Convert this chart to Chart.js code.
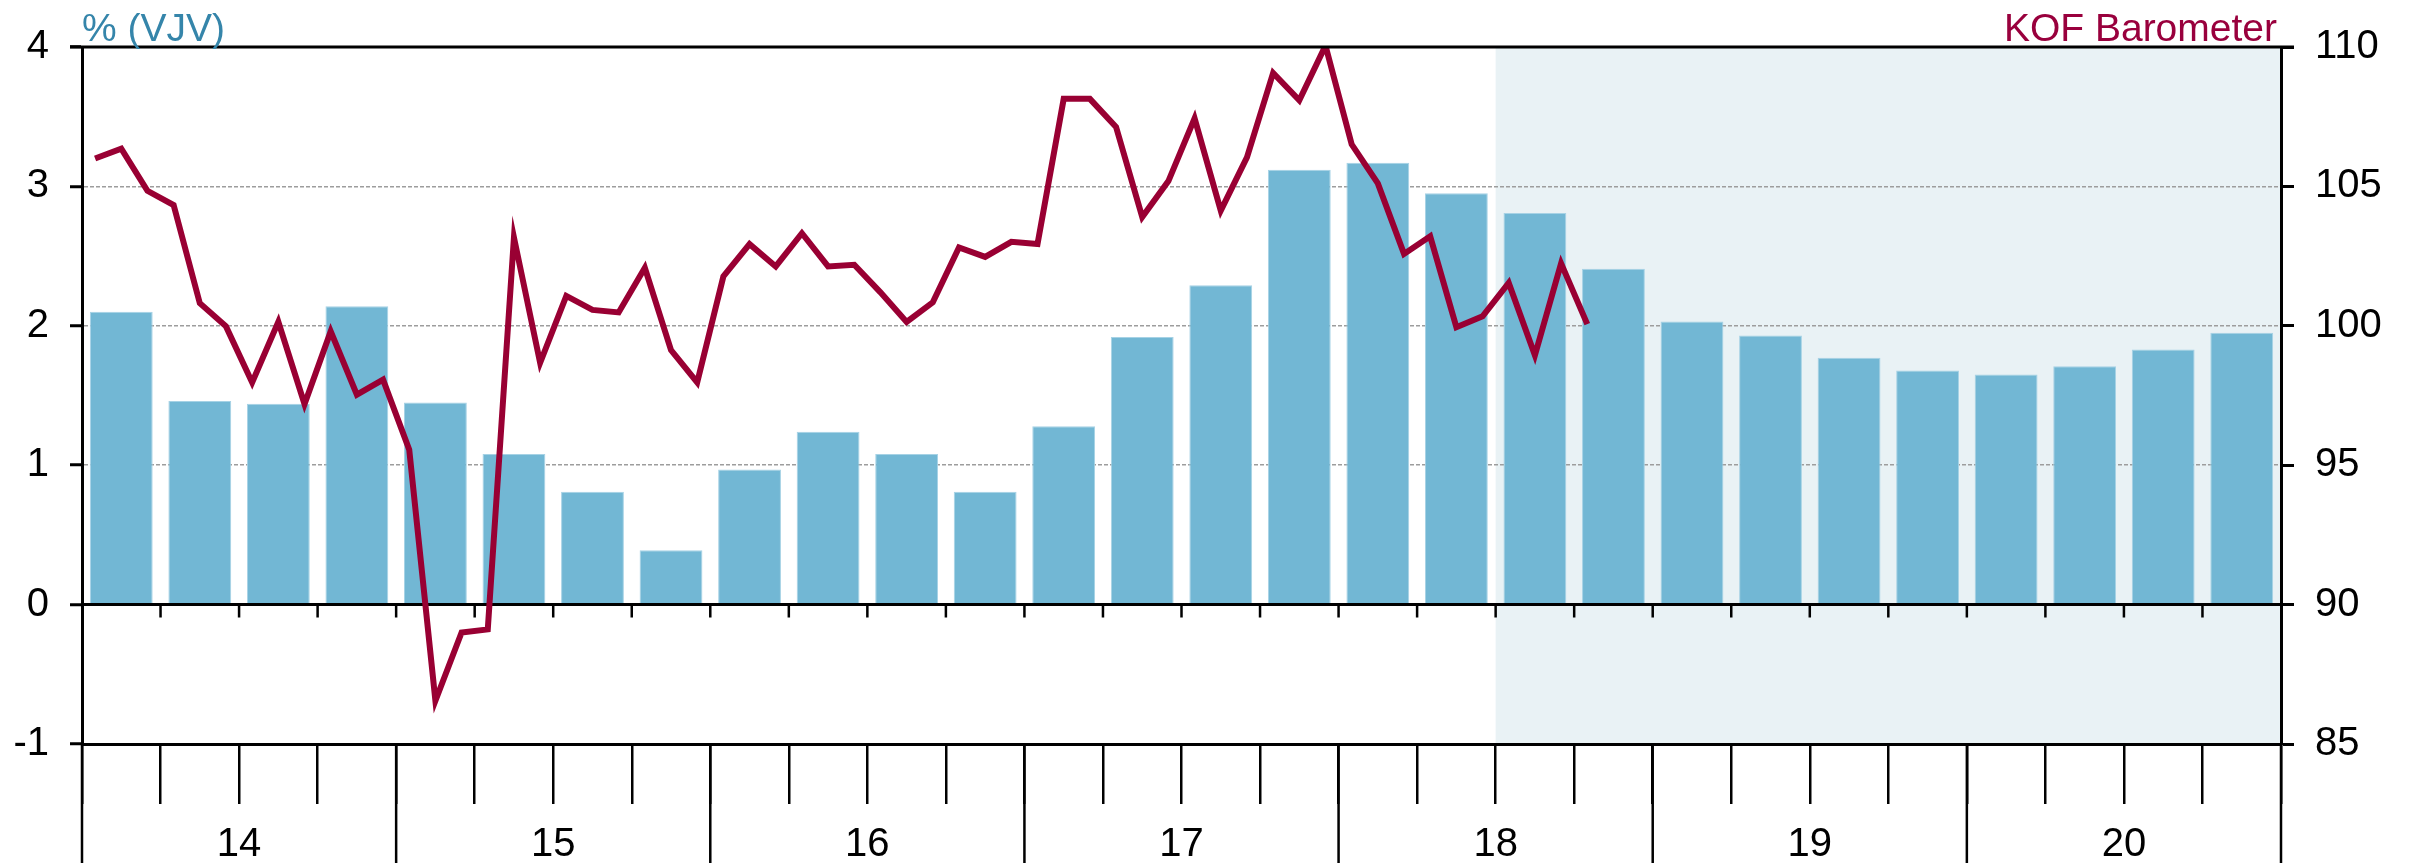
<!DOCTYPE html>
<html>
<head>
<meta charset="utf-8">
<script src="https://cdn.jsdelivr.net/npm/chart.js@4.4.1/dist/chart.umd.min.js"></script>
<style>
    html, body { margin: 0; padding: 0; background: #ffffff; }
    #wrap { width: 2415px; height: 863px; position: relative; }
</style>
</head>
<body>
<div id="wrap"><canvas id="kof-chart"></canvas></div>
<script>
(function () {
    "use strict";

    // Quarterly GDP growth, % yoy (VJV)
    var quarters = [
        "2014 Q1", "2014 Q2", "2014 Q3", "2014 Q4",
        "2015 Q1", "2015 Q2", "2015 Q3", "2015 Q4",
        "2016 Q1", "2016 Q2", "2016 Q3", "2016 Q4",
        "2017 Q1", "2017 Q2", "2017 Q3", "2017 Q4",
        "2018 Q1", "2018 Q2", "2018 Q3", "2018 Q4",
        "2019 Q1", "2019 Q2", "2019 Q3", "2019 Q4",
        "2020 Q1", "2020 Q2", "2020 Q3", "2020 Q4"
    ];
    var gdpGrowth = [
        2.10, 1.46, 1.44, 2.14,
        1.45, 1.08, 0.81, 0.39,
        0.97, 1.24, 1.08, 0.81,
        1.28, 1.92, 2.29, 3.12,
        3.17, 2.95, 2.81, 2.41,
        2.03, 1.93, 1.77, 1.68,
        1.65, 1.71, 1.83, 1.95
    ];

    // Monthly KOF Barometer
    var months = [
        "2014-01", "2014-02", "2014-03", "2014-04", "2014-05", "2014-06", "2014-07", "2014-08", "2014-09", "2014-10", "2014-11", "2014-12",
        "2015-01", "2015-02", "2015-03", "2015-04", "2015-05", "2015-06", "2015-07", "2015-08", "2015-09", "2015-10", "2015-11", "2015-12",
        "2016-01", "2016-02", "2016-03", "2016-04", "2016-05", "2016-06", "2016-07", "2016-08", "2016-09", "2016-10", "2016-11", "2016-12",
        "2017-01", "2017-02", "2017-03", "2017-04", "2017-05", "2017-06", "2017-07", "2017-08", "2017-09", "2017-10", "2017-11", "2017-12",
        "2018-01", "2018-02", "2018-03", "2018-04", "2018-05", "2018-06", "2018-07", "2018-08", "2018-09", "2018-10"
    ];
    var kofBarometer = [
        106.0, 106.35, 104.84, 104.33, 100.81, 99.98, 97.97, 100.14, 97.19, 99.80, 97.53, 98.07,
        95.56, 86.55, 89.0, 89.11, 103.17, 98.67, 101.07, 100.57, 100.48, 102.08, 99.13, 97.97,
        101.77, 102.93, 102.13, 103.32, 102.13, 102.19, 101.2, 100.14, 100.84, 102.81, 102.47, 103.01,
        102.93, 108.14, 108.14, 107.13, 103.90, 105.19, 107.44, 104.13, 106.04, 109.07, 108.09, 110.05,
        106.51, 105.11, 102.58, 103.21, 99.95, 100.34, 101.54, 98.94, 102.24, 100.06
    ];

    var yearLabels = ["14", "15", "16", "17", "18", "19", "20"];
    var forecastFrom = "2018 Q3";

    var FONT = "'Liberation Sans', Arial, sans-serif";
    var BAR_COLOR = "#72b7d4";
    var LINE_COLOR = "#990033";

    // x runs in quarter units: quarter i spans [i, i+1]
    var barPoints = quarters.map(function (q, i) {
        return { x: i + 0.5, y: gdpGrowth[i] };
    });
    var linePoints = months.map(function (m, i) {
        return { x: (i + 0.5) / 3, y: kofBarometer[i] };
    });

    // Frame, forecast shading, zero line, year separators, titles
    var framePlugin = {
        id: "frame",
        beforeDraw: function (chart) {
            var ctx = chart.ctx, area = chart.chartArea, x = chart.scales.x;
            var x0 = x.getPixelForValue(quarters.indexOf(forecastFrom));
            ctx.save();
            ctx.fillStyle = "#e9f2f5";
            ctx.fillRect(x0, area.top, area.right - x0, area.bottom - area.top);
            ctx.restore();
        },
        afterDatasetDraw: function (chart, args) {
            if (args.index !== 0) return;
            var ctx = chart.ctx, area = chart.chartArea, x = chart.scales.x;
            var y0 = chart.scales.y.getPixelForValue(0);
            ctx.save();
            ctx.strokeStyle = "#000";
            ctx.lineWidth = 3;
            ctx.beginPath();
            ctx.moveTo(area.left, y0);
            ctx.lineTo(area.right, y0);
            ctx.stroke();
            ctx.lineWidth = 2.5;
            ctx.beginPath();
            for (var i = 1; i < quarters.length; i++) {
                var px = x.getPixelForValue(i);
                ctx.moveTo(px, y0);
                ctx.lineTo(px, y0 + 13);
            }
            ctx.stroke();
            ctx.restore();
        },
        afterDraw: function (chart) {
            var ctx = chart.ctx, area = chart.chartArea, x = chart.scales.x;
            ctx.save();
            ctx.strokeStyle = "#000";
            ctx.lineWidth = 3;
            ctx.beginPath();
            ctx.moveTo(area.left - 12, area.top);
            ctx.lineTo(area.right + 13, area.top);
            ctx.stroke();
            ctx.lineWidth = 2.5;
            ctx.beginPath();
            for (var q = 0; q <= quarters.length; q += 4) {
                var px = x.getPixelForValue(q);
                ctx.moveTo(px, area.bottom);
                ctx.lineTo(px, chart.height);
            }
            ctx.stroke();

            ctx.font = "39px " + FONT;
            ctx.textBaseline = "alphabetic";
            ctx.fillStyle = "#3585aa";
            ctx.textAlign = "left";
            ctx.fillText("% (VJV)", area.left, 41);
            ctx.fillStyle = "#99003d";
            ctx.textAlign = "right";
            ctx.fillText("KOF Barometer", area.right - 4, 41);
            ctx.restore();
        }
    };

    var ctx = document.getElementById("kof-chart").getContext("2d");
    var kofChart = new Chart(ctx, {
        type: "bar",
        data: {
            datasets: [{
                type: "bar",
                label: "BIP",
                data: barPoints,
                xAxisID: "x",
                yAxisID: "y",
                backgroundColor: BAR_COLOR,
                borderColor: "#a6d2e5",
                borderWidth: 1,
                barPercentage: 0.8,
                categoryPercentage: 1.0,
                order: 1
            }, {
                type: "line",
                label: "KOF Barometer",
                data: linePoints,
                xAxisID: "x",
                yAxisID: "y1",
                borderColor: LINE_COLOR,
                borderWidth: 6,
                pointRadius: 0,
                tension: 0,
                fill: false,
                order: 0
            }]
        },
        options: {
            responsive: true,
            maintainAspectRatio: false,
            animation: false,
            devicePixelRatio: 1,
            layout: { padding: { top: 47, left: 0, right: 0, bottom: 0 } },
            plugins: {
                legend: { display: false },
                tooltip: { enabled: false }
            },
            scales: {
                x: {
                    type: "linear",
                    position: "bottom",
                    min: 0,
                    max: quarters.length,
                    offset: false,
                    grid: {
                        offset: false,
                        drawOnChartArea: false,
                        drawTicks: true,
                        tickLength: 60,
                        color: "#000",
                        lineWidth: 2.5
                    },
                    border: { color: "#000", width: 3 },
                    ticks: {
                        stepSize: 1,
                        maxTicksLimit: 100,
                        autoSkip: false,
                        maxRotation: 0,
                        padding: 17,
                        color: "#000",
                        font: { family: FONT, size: 40 },
                        callback: function (v) {
                            return (v % 4 === 2) ? yearLabels[(v - 2) / 4] : "";
                        }
                    },
                    afterFit: function (scale) { scale.height = 119; }
                },
                y: {
                    position: "left",
                    min: -1,
                    max: 4,
                    grid: {
                        color: "#9d9d9d",
                        lineWidth: 1.5,
                        tickColor: "#000",
                        tickWidth: 3,
                        tickLength: 12,
                        tickBorderDash: []
                    },
                    border: { color: "#000", width: 3, dash: [4, 2] },
                    ticks: {
                        stepSize: 1,
                        padding: 21,
                        color: "#000",
                        font: { family: FONT, size: 40 }
                    },
                    afterFit: function (scale) { scale.width = 82; }
                },
                y1: {
                    position: "right",
                    min: 85,
                    max: 110,
                    grid: {
                        drawOnChartArea: false,
                        color: "#000",
                        tickColor: "#000",
                        tickWidth: 3,
                        tickLength: 13
                    },
                    border: { color: "#000", width: 3 },
                    ticks: {
                        stepSize: 5,
                        padding: 21,
                        color: "#000",
                        font: { family: FONT, size: 40 }
                    },
                    afterFit: function (scale) { scale.width = 134; }
                }
            }
        },
        plugins: [framePlugin]
    });
})();
</script>
</body>
</html>
